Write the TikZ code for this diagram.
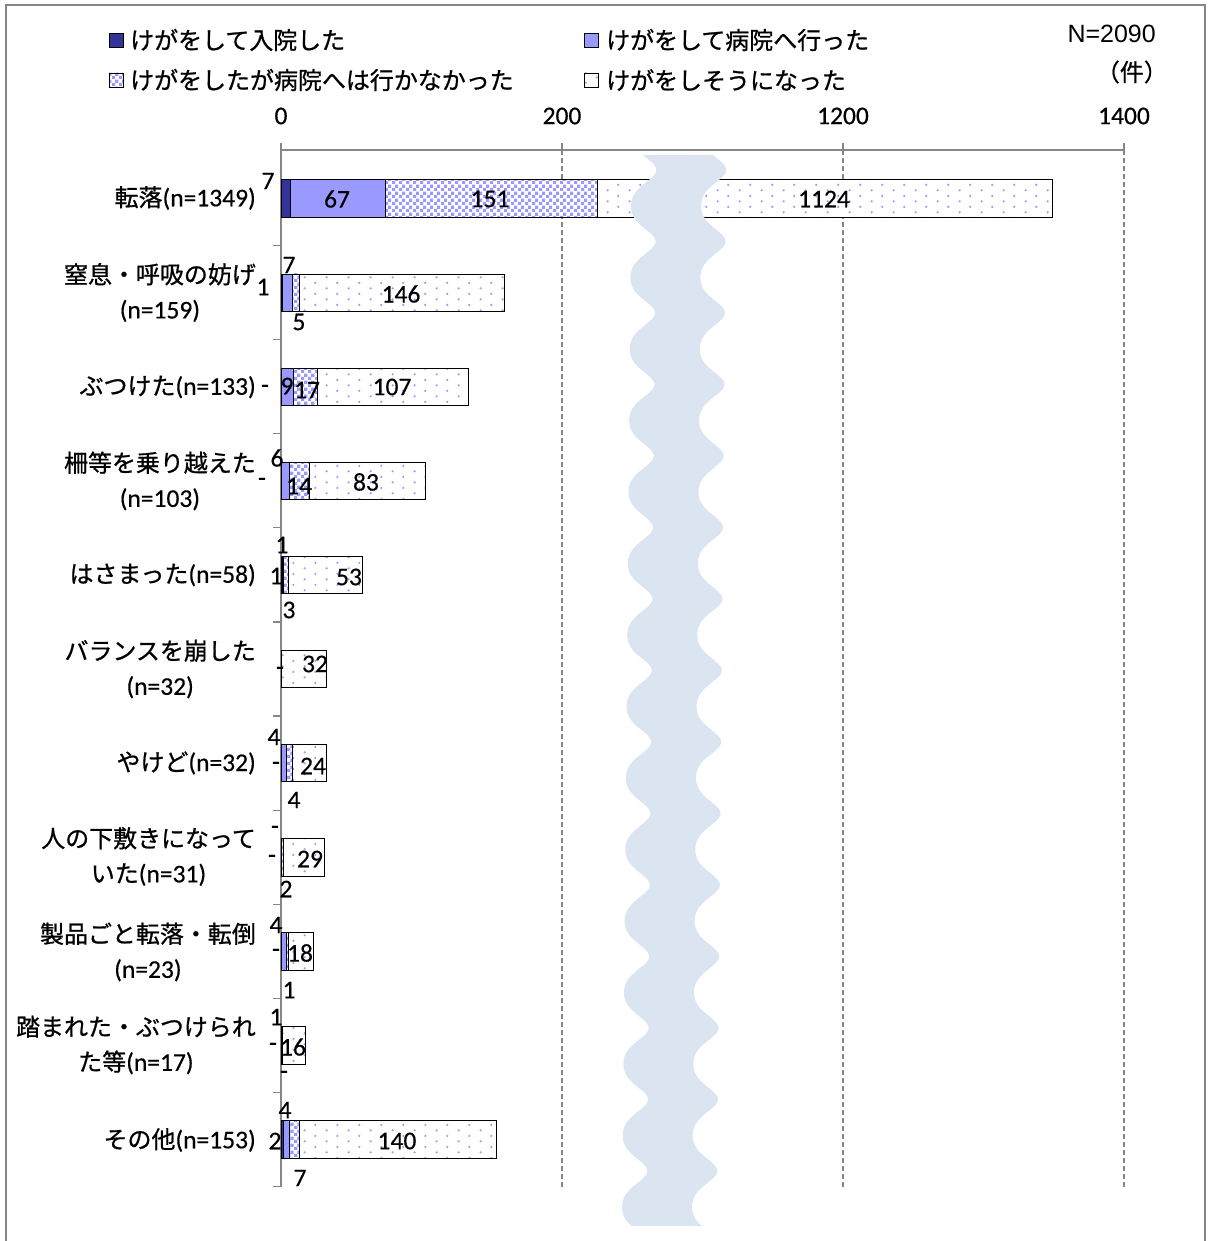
\documentclass[tikz,border=0pt]{standalone}
\usepackage{fontspec}
\setmainfont[FakeBold=0.4]{Carlito}
\newfontfamily\jpfont[Scale=0.94, FakeBold=0.8]{Noto Sans CJK JP}
\newfontfamily\arialfont{Liberation Sans}
\usetikzlibrary{patterns}

\definecolor{navybar}{HTML}{333399}
\definecolor{litebar}{HTML}{9999FF}
\definecolor{axisgray}{HTML}{868686}
\definecolor{wavefill}{HTML}{DBE5F1}

% fine chequer and sparse dots, as in the bars
\pgfdeclarepatternformonly{chequer}{\pgfpointorigin}{\pgfqpoint{7pt}{7pt}}{\pgfqpoint{7pt}{7pt}}{%
  \pgfpathrectangle{\pgfpointorigin}{\pgfqpoint{3.5pt}{3.5pt}}%
  \pgfpathrectangle{\pgfqpoint{3.5pt}{3.5pt}}{\pgfqpoint{3.5pt}{3.5pt}}%
  \pgfusepath{fill}}
\pgfdeclarepatternformonly{sparsedots}{\pgfpointorigin}{\pgfqpoint{21.6pt}{10.8pt}}{\pgfqpoint{21.6pt}{10.8pt}}{%
  \pgfpathcircle{\pgfqpoint{2.7pt}{2.7pt}}{1.2pt}%
  \pgfpathcircle{\pgfqpoint{13.5pt}{8.1pt}}{1.2pt}%
  \pgfusepath{fill}}

\begin{document}
\begin{tikzpicture}[x=1pt, y=-1pt,
  axisline/.style={axisgray, line width=1.2pt},
  gridline/.style={axisgray, line width=1.1pt, dash pattern=on 5pt off 3pt},
  segnavy/.style={draw=black, line width=0.8pt, fill=navybar},
  seglite/.style={draw=black, line width=0.8pt, fill=litebar},
  segchk/.style={draw=black, line width=0.8pt, preaction={fill=white}, pattern=chequer, pattern color=litebar},
  segdot/.style={draw=black, line width=0.8pt, preaction={fill=white}, pattern=sparsedots, pattern color=litebar},
  val/.style={font=\fontsize{25.5}{30}\selectfont, inner sep=0pt},
  cat/.style={font=\fontsize{25.5}{35}\selectfont, align=center, anchor=east, inner sep=0pt},
  leg/.style={font=\jpfont\fontsize{25.5}{30}\selectfont, anchor=west, inner sep=0pt}]
\useasboundingbox (0,0) rectangle (1208,1241);

% frame
\draw[axisgray, line width=1.5pt] (6,1241) -- (6,5) -- (1205,5) -- (1205,1241);

% legend
\draw[segnavy] (109,33) rectangle (123,47);
\node[leg] (l1) at (130,40) {けがをして入院した};
\draw[seglite] (584,33) rectangle (598,47);
\node[leg] (l2) at (606,40) {けがをして病院へ行った};
\draw[segchk] (109,73) rectangle (123,87);
\node[leg] (l3) at (130,80) {けがをしたが病院へは行かなかった};
\draw[segdot] (584,73) rectangle (598,87);
\node[leg] (l4) at (606,80) {けがをしそうになった};
\node[font=\arialfont\fontsize{25}{30}\selectfont, anchor=east, inner sep=0pt] (nall) at (1156,34) {N=2090};
\node[leg, anchor=east] (unit) at (1168,72) {（件）};

% axes and grid
\node[val] (t0) at (281,116) {0};
\node[val] (t1) at (562,116) {200};
\node[val] (t2) at (843,116) {1200};
\node[val] (t3) at (1124,116) {1400};
\draw[gridline] (562,150) -- (562,1187);
\draw[gridline] (843,150) -- (843,1187);
\draw[gridline] (1124,150) -- (1124,1187);
\draw[axisline] (281,150) -- (1124,150);
\draw[axisline] (281,143) -- (281,150) (562,143) -- (562,150) (843,143) -- (843,150) (1124,143) -- (1124,150);
\draw[axisline] (281,150) -- (281,1187);
\draw[axisline] (273,245.5) -- (281,245.5) (273,339.6) -- (281,339.6) (273,433.7) -- (281,433.7)
  (273,527.8) -- (281,527.8) (273,621.9) -- (281,621.9) (273,716) -- (281,716)
  (273,810.1) -- (281,810.1) (273,904.2) -- (281,904.2) (273,998.3) -- (281,998.3)
  (273,1092.4) -- (281,1092.4) (273,1186.5) -- (281,1186.5);

% bars
\draw[segnavy] (281,179.8) rectangle (290.8,217.2);
\draw[seglite] (290.8,179.8) rectangle (385,217.2);
\draw[segchk] (385,179.8) rectangle (597.1,217.2);
\draw[segdot] (597.1,179.8) rectangle (1052,217.2);

\draw[segnavy] (281,273.9) rectangle (282.4,311.3);
\draw[seglite] (282.4,273.9) rectangle (292.2,311.3);
\draw[segchk] (292.2,273.9) rectangle (299.3,311.3);
\draw[segdot] (299.3,273.9) rectangle (504.4,311.3);

\draw[seglite] (281,368) rectangle (293.6,405.4);
\draw[segchk] (293.6,368) rectangle (317.5,405.4);
\draw[segdot] (317.5,368) rectangle (467.9,405.4);

\draw[seglite] (281,462.1) rectangle (289.4,499.5);
\draw[segchk] (289.4,462.1) rectangle (309.1,499.5);
\draw[segdot] (309.1,462.1) rectangle (425.7,499.5);

\draw[segnavy] (281,556.2) rectangle (282.4,593.6);
\draw[seglite] (282.4,556.2) rectangle (283.8,593.6);
\draw[segchk] (283.8,556.2) rectangle (288,593.6);
\draw[segdot] (288,556.2) rectangle (362.5,593.6);

\draw[segdot] (281,650.3) rectangle (326,687.7);

\draw[seglite] (281,744.4) rectangle (286.6,781.8);
\draw[segchk] (286.6,744.4) rectangle (292.2,781.8);
\draw[segdot] (292.2,744.4) rectangle (326,781.8);

\draw[segchk] (281,838.5) rectangle (283.8,875.9);
\draw[segdot] (283.8,838.5) rectangle (324.6,875.9);

\draw[seglite] (281,932.6) rectangle (286.6,970);
\draw[segchk] (286.6,932.6) rectangle (288,970);
\draw[segdot] (288,932.6) rectangle (313.3,970);

\draw[seglite] (281,1026.7) rectangle (282.4,1064.1);
\draw[segdot] (282.4,1026.7) rectangle (304.9,1064.1);

\draw[segnavy] (281,1120.8) rectangle (283.8,1158.2);
\draw[seglite] (283.8,1120.8) rectangle (289.4,1158.2);
\draw[segchk] (289.4,1120.8) rectangle (299.3,1158.2);
\draw[segdot] (299.3,1120.8) rectangle (496,1158.2);

% axis break
\fill[wavefill] plot[variable=\t, domain=155:1226, samples=400] ({644-0.009*(\t-155)+12.5*sin(5.035*(\t-170)+90+20*sin(5.035*(\t-170)))}, \t)
  -- plot[variable=\t, domain=1226:155, samples=400] ({714-0.009*(\t-155)+12.5*sin(5.035*(\t-170)+90+20*sin(5.035*(\t-170)))}, \t) -- cycle;

% categories
\node[cat] (c1) at (256,198) {{\jpfont 転落}(n=1349)};
\node[cat] (c2) at (256,292.5) {{\jpfont 窒息・呼吸の妨げ}\\(n=159)};
\node[cat] (c3) at (256,387) {{\jpfont ぶつけた}(n=133)};
\node[cat] (c4) at (256,481) {{\jpfont 柵等を乗り越えた}\\(n=103)};
\node[cat] (c5) at (256,575) {{\jpfont はさまった}(n=58)};
\node[cat] (c6) at (256,669) {{\jpfont バランスを崩した}\\(n=32)};
\node[cat] (c7) at (256,763) {{\jpfont やけど}(n=32)};
\node[cat] (c8) at (256,856.5) {{\jpfont 人の下敷きになって}\\{\jpfont いた}(n=31)};
\node[cat] (c9) at (256,952) {{\jpfont 製品ごと転落・転倒}\\(n=23)};
\node[cat] (c10) at (256,1045) {{\jpfont 踏まれた・ぶつけられ}\\{\jpfont た等}(n=17)};
\node[cat] (c11) at (256,1140) {{\jpfont その他}(n=153)};

% values
\node[val] (v1a) at (268,181) {7};
\node[val] (v1b) at (337,199) {67};
\node[val] (v1c) at (490,199) {151};
\node[val] (v1d) at (824,199) {1124};
\node[val] (v2a) at (263,287) {1};
\node[val] (v2b) at (289,265) {7};
\node[val] (v2c) at (299,322) {5};
\node[val] (v2d) at (401,294) {146};
\node[val] (v3a) at (265,389) {-};
\node[val] (v3b) at (287,386) {9};
\node[val] (v3c) at (307,390) {17};
\node[val] (v3d) at (392,387) {107};
\node[val] (v4a) at (262,482) {-};
\node[val] (v4b) at (277,458) {6};
\node[val] (v4c) at (299,486) {14};
\node[val] (v4d) at (366,482) {83};
\node[val] (v5a) at (276,576) {1};
\node[val] (v5b) at (282,545) {1};
\node[val] (v5c) at (289,610) {3};
\node[val] (v5d) at (349,577) {53};
\node[val] (v6a) at (280,671) {-};
\node[val] (v6d) at (315,664) {32};
\node[val] (v7a) at (276,766) {-};
\node[val] (v7b) at (274,737) {4};
\node[val] (v7c) at (294,800) {4};
\node[val] (v7d) at (313,766) {24};
\node[val] (v8a) at (272,859) {-};
\node[val] (v8b) at (275,830) {-};
\node[val] (v8c) at (286,889) {2};
\node[val] (v8d) at (310,859) {29};
\node[val] (v9a) at (276,953) {-};
\node[val] (v9b) at (276,925) {4};
\node[val] (v9c) at (289,990) {1};
\node[val] (v9d) at (300,953) {18};
\node[val] (v10a) at (273,1047) {-};
\node[val] (v10b) at (276,1017) {1};
\node[val] (v10c) at (284,1075) {-};
\node[val] (v10d) at (293,1047) {16};
\node[val] (v11a) at (275,1141) {2};
\node[val] (v11b) at (285,1110) {4};
\node[val] (v11c) at (300,1178) {7};
\node[val] (v11d) at (397,1141) {140};
\end{tikzpicture}
\end{document}
